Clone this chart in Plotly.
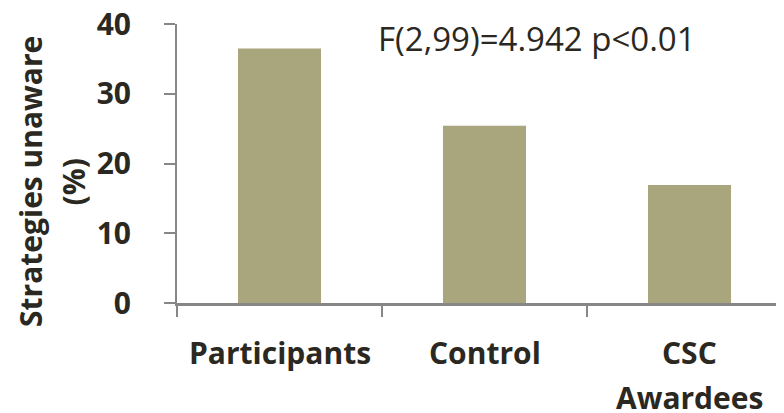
import plotly.graph_objects as go

categories = ["Participants", "Control", "CSC Awardees"]
label_lines = [["Participants"], ["Control"], ["CSC", "Awardees"]]
values = [36.5, 25.4, 16.9]
y_ticks = [0, 10, 20, 30, 40]
y_title_lines = ["Strategies unaware", "(%)"]
stat_text = "F(2,99)=4.942 p<0.01"

bar_color = "#A9A57C"
axis_color = "#878787"
text_color = "#2A2820"
font_family = "'Open Sans', sans-serif"
fs = 30
fs_stat = 33

# page body adds an 8px offset; lay out in screen pixels and subtract it
OFF = 8
W, H = 784, 413
plot_left = 177 - OFF
plot_top, plot_bottom = 24 - OFF, 303 - OFF
plot_h = plot_bottom - plot_top
plot_w = W - plot_left


def py(screen_y):
    return (plot_bottom - (screen_y - OFF)) / plot_h


def px(screen_x):
    return ((screen_x - OFF) - plot_left) / plot_w


fig = go.Figure()
fig.add_trace(go.Bar(
    x=categories, y=values,
    marker=dict(color=bar_color, line=dict(width=0)),
    width=0.405,
))

annotations = []
for cat, lines in zip(categories, label_lines):
    for i, line in enumerate(lines):
        annotations.append(dict(
            text=line, xref="x", yref="paper",
            x=cat, y=py(352 + 45 * i),
            xanchor="center", yanchor="middle", showarrow=False,
            borderpad=0,
            font=dict(size=fs, family=font_family, color=text_color, weight="bold"),
        ))

for line, sx in zip(y_title_lines, [30, 72.5]):
    annotations.append(dict(
        text=line,
        xref="paper", yref="paper",
        x=px(sx), y=py(182), xanchor="center", yanchor="middle",
        textangle=-90, showarrow=False,
        font=dict(size=fs, family=font_family, color=text_color, weight="bold"),
    ))
annotations.append(dict(
    text=stat_text,
    xref="paper", yref="paper",
    x=px(376), y=py(39), xanchor="left", yanchor="middle",
    showarrow=False,
    font=dict(size=fs_stat, family=font_family, color=text_color),
))

fig.update_layout(
    width=W, height=H,
    margin=dict(l=plot_left, r=0, t=plot_top, b=H - plot_bottom, autoexpand=False),
    paper_bgcolor="white", plot_bgcolor="white",
    showlegend=False,
    font=dict(family=font_family, color=text_color),
    xaxis=dict(
        range=[-0.5, -0.5 + plot_w / 205.0],
        showline=True, linecolor=axis_color, linewidth=3,
        ticks="outside", tickson="boundaries", ticklen=11,
        tickcolor=axis_color, tickwidth=2,
        showticklabels=False,
        showgrid=False, zeroline=False, automargin=False,
    ),
    yaxis=dict(
        range=[0, 40],
        tickvals=y_ticks,
        showline=True, linecolor=axis_color, linewidth=2,
        ticks="outside", ticklen=11, tickcolor=axis_color, tickwidth=2,
        tickfont=dict(size=fs, family=font_family, color=text_color, weight="bold"),
        ticklabelstandoff=27,
        ticklabeloverflow="allow",
        showgrid=False, zeroline=False, automargin=False,
    ),
    annotations=annotations,
)

fig.write_html("out.html")
